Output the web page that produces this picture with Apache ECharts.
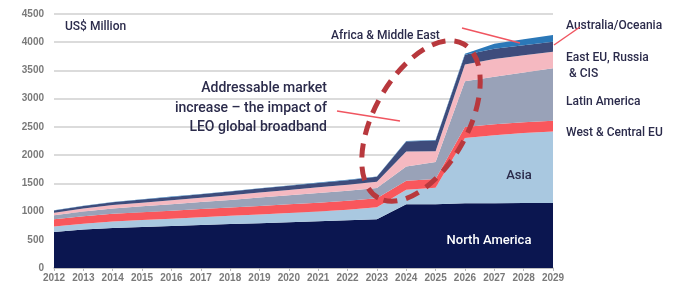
<!DOCTYPE html>
<html>
<head>
<meta charset="utf-8">
<script src="https://cdn.jsdelivr.net/npm/echarts@6/dist/echarts.min.js"></script>
<style>
  html, body { margin: 0; padding: 0; background: #fff; }
  #chart { width: 677px; height: 283px; }
</style>
</head>
<body>
<div id="chart"></div>
<script>
  // years on the x axis
  var years = ['2012','2013','2014','2015','2016','2017','2018','2019','2020',
               '2021','2022','2023','2024','2025','2026','2027','2028','2029'];

  // US$ Million per region (stacked, bottom to top)
  var northAmerica = [640, 680, 710, 727, 744, 761, 778, 795, 812, 829, 846, 865, 1130, 1130, 1145, 1148, 1150, 1152];
  var asia         = [95, 105, 115, 122, 130, 138, 146, 154, 162, 172, 185, 210, 255, 290, 1160, 1205, 1240, 1265];
  var westCentEU   = [130, 133, 136, 139, 142, 145, 148, 151, 154, 157, 160, 160, 160, 155, 195, 195, 190, 190];
  var latinAmerica = [70, 82, 94, 104, 114, 124, 134, 148, 160, 172, 178, 182, 255, 305, 810, 840, 885, 930];
  var eastEU       = [45, 52, 60, 66, 72, 78, 84, 90, 95, 100, 105, 110, 265, 190, 295, 315, 305, 295];
  var africaME     = [40, 45, 50, 54, 58, 62, 66, 70, 74, 78, 82, 88, 175, 190, 175, 180, 178, 177];
  var australia    = [5, 5, 5, 5, 5, 5, 5, 6, 6, 6, 6, 7, 8, 8, 15, 90, 105, 118];

  var yTicks = [0, 500, 1000, 1500, 2000, 2500, 3000, 3500, 4000, 4500];

  var chart = echarts.init(document.getElementById('chart'));

  function layer(name, data, color) {
    return {
      name: name,
      type: 'line',
      stack: 'total',
      data: data,
      symbol: 'none',
      lineStyle: { width: 0 },
      areaStyle: { color: color, opacity: 1 },
      emphasis: { disabled: true }
    };
  }

  var font = '"Roboto", "Noto Sans", sans-serif';
  var dark = '#2b2b4b';

  var option = {
    animation: false,
    grid: { left: 54, right: 124, top: 14, bottom: 15 },
    xAxis: {
      type: 'category',
      data: years,
      boundaryGap: false,
      axisLine: { lineStyle: { color: '#b8b8b8', width: 1.5 } },
      axisTick: { show: true, length: 3, lineStyle: { color: '#b8b8b8' } },
      axisLabel: { color: '#7a7a7a', fontSize: 10, fontWeight: 'bold', margin: 5,
                   fontFamily: 'Arial, "Liberation Sans", sans-serif', interval: 0 }
    },
    yAxis: {
      type: 'value',
      min: yTicks[0],
      max: yTicks[yTicks.length - 1],
      interval: 500,
      axisLine: { show: false },
      axisTick: { show: false },
      splitLine: { lineStyle: { color: '#cfcfcf', width: 1.5 } },
      axisLabel: { color: '#7a7a7a', fontSize: 10, fontWeight: 'bold', margin: 10,
                   fontFamily: 'Arial, "Liberation Sans", sans-serif',
                   formatter: function (v) { return String(v); } }
    },
    series: [
      layer('North America', northAmerica, '#0b1650'),
      layer('Asia', asia, '#a9c8e0'),
      layer('West & Central EU', westCentEU, '#f9575c'),
      layer('Latin America', latinAmerica, '#99a2b8'),
      layer('East EU, Russia & CIS', eastEU, '#f5b9c1'),
      layer('Africa & Middle East', africaME, '#3e4c7c'),
      layer('Australia/Oceania', australia, '#2b78b8')
    ],
    graphic: [
      { type: 'text', x: 65, y: 27, z: 10,
        style: { text: 'US$ Million', font: '500 12px ' + font, fill: dark, textVerticalAlign: 'middle' } },
      { type: 'text', x: 331, y: 36, z: 10,
        style: { text: 'Africa & Middle East', font: '500 12px ' + font, fill: dark, textVerticalAlign: 'middle' } },
      { type: 'line', z: 10, shape: { x1: 462, y1: 28, x2: 520, y2: 43 },
        style: { stroke: '#f05560', lineWidth: 1.5 } },
      { type: 'text', x: 566, y: 26, z: 10,
        style: { text: 'Australia/Oceania', font: '500 12px ' + font, fill: dark, textVerticalAlign: 'middle' } },
      { type: 'line', z: 10, shape: { x1: 580, y1: 27, x2: 554, y2: 45 },
        style: { stroke: '#f05560', lineWidth: 1.5 } },
      { type: 'text', x: 566, y: 58, z: 10,
        style: { text: 'East EU, Russia', font: '500 12px ' + font, fill: dark, textVerticalAlign: 'middle' } },
      { type: 'text', x: 566, y: 74, z: 10,
        style: { text: ' & CIS', font: '500 12px ' + font, fill: dark, textVerticalAlign: 'middle' } },
      { type: 'text', x: 566, y: 102, z: 10,
        style: { text: 'Latin America', font: '500 12px ' + font, fill: dark, textVerticalAlign: 'middle' } },
      { type: 'text', x: 566, y: 133, z: 10,
        style: { text: 'West & Central EU', font: '500 12px ' + font, fill: dark, textVerticalAlign: 'middle' } },
      { type: 'text', x: 519, y: 176, z: 10,
        style: { text: 'Asia', font: '500 13px ' + font, fill: dark, textAlign: 'center', textVerticalAlign: 'middle' } },
      { type: 'text', x: 489, y: 241, z: 10,
        style: { text: 'North America', font: '500 13px ' + font, fill: '#ffffff', textAlign: 'center', textVerticalAlign: 'middle' } },
      { type: 'text', x: 327, y: 108, z: 10,
        style: { text: 'Addressable market\nincrease \u2013 the impact of\nLEO global broadband',
                 font: '500 14px ' + font, lineHeight: 19.5, fill: dark,
                 textAlign: 'right', textVerticalAlign: 'middle' } },
      { type: 'line', z: 10, shape: { x1: 337, y1: 111, x2: 400, y2: 121 },
        style: { stroke: '#f05560', lineWidth: 1.5 } },
      // dashed oval round the jump
      { type: 'ellipse', z: 11, x: 421, y: 121, rotation: 61 * Math.PI / 180,
        shape: { cx: 0, cy: 0, rx: 88, ry: 47 },
        style: { fill: 'none', stroke: '#b8383d', lineWidth: 5, lineDash: [14, 9] } }
    ]
  };

  chart.setOption(option);
</script>
</body>
</html>
